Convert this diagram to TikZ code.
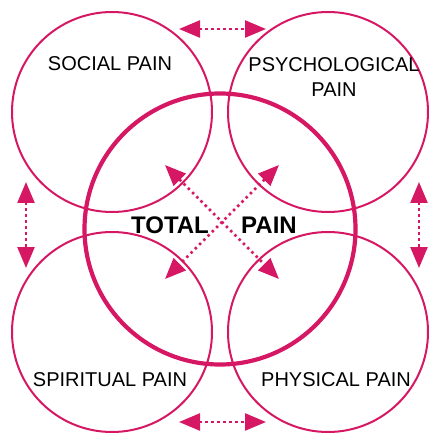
\documentclass[tikz,border=0pt]{standalone}
\usepackage{fontspec}
\setmainfont{Liberation Sans}
\usetikzlibrary{arrows.meta,positioning}
\definecolor{painred}{RGB}{214,24,100}

\begin{document}
\begin{tikzpicture}[
    x=1pt, y=-1pt,
    ring/.style={circle, draw=painred, line width=2pt, inner sep=0pt,
                minimum size=200pt},
    bigring/.style={circle, draw=painred, line width=4.2pt, inner sep=0pt,
                minimum size=271pt},
    caption/.style={font=\fontsize{20}{25}\selectfont, align=center, inner sep=0pt},
    title/.style={font=\fontsize{24}{28}\selectfont\bfseries, inner sep=0pt},
    link/.style={{Triangle[length=21pt,width=17pt]}-{Triangle[length=21pt,width=17pt]},
                painred, line width=2.5pt, dash pattern=on 2.5pt off 3.5pt}
]
    \useasboundingbox (0,0) rectangle (434,433);

    % the four aspects
    \node[ring] (social) at (112,112) {};
    \node[ring] (psycho) at (328,112) {};
    \node[ring] (spirit) at (112,332) {};
    \node[ring] (physic) at (328,332) {};
    \node[bigring] (total) at (220,229) {};

    \node[caption] (sociallbl) at (110,64) {SOCIAL PAIN};
    \node[caption] (psycholbl) at (334,77) {PSYCHOLOGICAL\\PAIN};
    \node[caption] (spiritlbl) at (110,380) {SPIRITUAL PAIN};
    \node[caption] (physiclbl) at (336,380) {PHYSICAL PAIN};
    \node[title] (totallbl) at (170,225) {TOTAL};
    \node[title] (painlbl) at (269,225) {PAIN};

    % arrow ends
    \coordinate (topL) at (179,29);
    \coordinate (topR) at (266,29);
    \coordinate (botL) at (179,422);
    \coordinate (botR) at (266,422);
    \coordinate (leftT) at (26,182);
    \coordinate (leftB) at (26,268);
    \coordinate (rightT) at (419,182);
    \coordinate (rightB) at (419,268);
    \coordinate (diagA) at (165,165);
    \coordinate (diagB) at (279,279);
    \coordinate (diagC) at (279,165);
    \coordinate (diagD) at (165,279);

    \draw[link] (topL) -- (topR);
    \draw[link] (botL) -- (botR);
    \draw[link] (leftT) -- (leftB);
    \draw[link] (rightT) -- (rightB);
    \draw[link] (diagA) -- (diagB);
    \draw[link] (diagC) -- (diagD);
\end{tikzpicture}
\end{document}
